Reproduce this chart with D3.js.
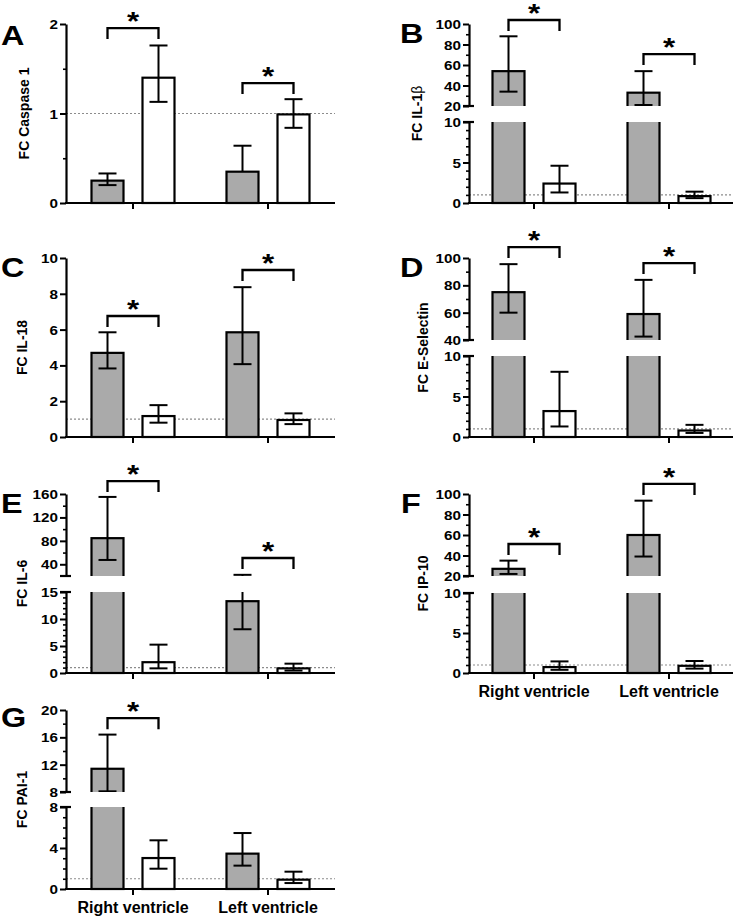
<!DOCTYPE html>
<html><head><meta charset="utf-8">
<script src="https://cdn.jsdelivr.net/npm/d3@7"></script>
<style>body{margin:0;background:#fff}svg{display:block;font-family:"Liberation Sans",Arial,Helvetica,sans-serif}text{fill:#000}</style>
</head><body><svg id="c" width="738" height="916"></svg>
<script>
const categories = ["Right ventricle", "Left ventricle"];
const series = ["gray", "white"];

// A – Caspase 1
const caspaseGray = [0.25, 0.35];
const caspaseGrayErr = [[0.2, 0.33], [0.35, 0.64]];
const caspaseWhite = [1.4, 0.99];
const caspaseWhiteErr = [[1.13, 1.76], [0.84, 1.16]];
const caspaseSig = [1.955, 1.34];
const caspaseTicks = [0, 1, 2];
const caspaseMinor = [0.5, 1.5];

// B – IL-1β
const il1bGray = [54, 33];
const il1bGrayErr = [[34, 88], [21, 54]];
const il1bWhite = [2.4, 0.85];
const il1bWhiteErr = [[1.3, 4.6], [0.6, 1.4]];
const il1bSig = [103.9, 70.7];
const il1bLowTicks = [0, 5, 10];
const il1bLowMinor = [1, 2, 3, 4, 6, 7, 8, 9];
const il1bHighTicks = [20, 40, 60, 80, 100];
const il1bHighMinor = [30, 50, 70, 90];

// C – IL-18
const il18Gray = [4.7, 5.85];
const il18GrayErr = [[3.83, 5.85], [4.07, 8.37]];
const il18White = [1.17, 0.95];
const il18WhiteErr = [[0.8, 1.78], [0.72, 1.32]];
const il18Sig = [6.76, 9.33];
const il18Ticks = [0, 2, 4, 6, 8, 10];
const il18Minor = [];

// D – E-Selectin
const eselGray = [75, 59];
const eselGrayErr = [[60, 95.5], [42.5, 84]];
const eselWhite = [3.2, 0.8];
const eselWhiteErr = [[1.3, 8.05], [0.5, 1.5]];
const eselSig = [108, 96.3];
const eselLowTicks = [0, 5, 10];
const eselLowMinor = [1, 2, 3, 4, 6, 7, 8, 9];
const eselHighTicks = [40, 60, 80, 100];
const eselHighMinor = [50, 70, 90];

// E – IL-6
const il6Gray = [84.6, 13.3];
const il6GrayErr = [[47.4, 155], [8.1, 22]];
const il6White = [2.0, 0.86];
const il6WhiteErr = [[0.86, 5.25], [0.45, 1.73]];
const il6Sig = [182, 50.7];
const il6LowTicks = [0, 5, 10, 15];
const il6LowMinor = [1, 2, 3, 4, 6, 7, 8, 9, 11, 12, 13, 14];
const il6HighTicks = [40, 80, 120, 160];
const il6HighMinor = [60, 100, 140];

// F – IP-10
const ip10Gray = [27, 60];
const ip10GrayErr = [[22, 35], [39, 93.5]];
const ip10White = [0.74, 0.9];
const ip10WhiteErr = [[0.4, 1.45], [0.55, 1.5]];
const ip10Sig = [51.2, 109.8];
const ip10LowTicks = [0, 5, 10];
const ip10LowMinor = [1, 2, 3, 4, 6, 7, 8, 9];
const ip10HighTicks = [20, 40, 60, 80, 100];
const ip10HighMinor = [30, 50, 70, 90];

// G – PAI-1
const pai1Gray = [11.4, 3.45];
const pai1GrayErr = [[8.1, 16.4], [2.28, 5.46]];
const pai1White = [3.02, 0.91];
const pai1WhiteErr = [[1.98, 4.75], [0.58, 1.69]];
const pai1Sig = [18.8, null];
const pai1LowTicks = [0, 4, 8];
const pai1LowMinor = [1, 2, 3, 5, 6, 7];
const pai1HighTicks = [8, 12, 16, 20];
const pai1HighMinor = [10, 14, 18];

// ---- layout ----
const cols = [
  {axisX: 66, xEnd: 335, band: [65.5, 335.5]},
  {axisX: 469, xEnd: 733, band: [466.5, 736.5]}
];

const panels = [
  {letter: "A", col: 0, lx: 1, ly: 45, title: "FC Caspase 1", tx: 24,
   gray: caspaseGray, grayErr: caspaseGrayErr, white: caspaseWhite, whiteErr: caspaseWhiteErr, sig: caspaseSig,
   segs: [{domain: [0, 2], range: [203, 24], ticks: caspaseTicks, minor: caspaseMinor}]},
  {letter: "B", col: 1, lx: 400, ly: 43, title: "FC IL-1", greek: "β", tx: 417,
   gray: il1bGray, grayErr: il1bGrayErr, white: il1bWhite, whiteErr: il1bWhiteErr, sig: il1bSig,
   segs: [{domain: [0, 10], range: [203, 122], ticks: il1bLowTicks, minor: il1bLowMinor},
          {domain: [20, 100], range: [106, 24], ticks: il1bHighTicks, minor: il1bHighMinor}]},
  {letter: "C", col: 0, lx: 1, ly: 277, title: "FC IL-18", tx: 22,
   gray: il18Gray, grayErr: il18GrayErr, white: il18White, whiteErr: il18WhiteErr, sig: il18Sig,
   segs: [{domain: [0, 10], range: [437, 258], ticks: il18Ticks, minor: il18Minor}]},
  {letter: "D", col: 1, lx: 400, ly: 277, title: "FC E-Selectin", tx: 423,
   gray: eselGray, grayErr: eselGrayErr, white: eselWhite, whiteErr: eselWhiteErr, sig: eselSig,
   segs: [{domain: [0, 10], range: [437, 356], ticks: eselLowTicks, minor: eselLowMinor},
          {domain: [40, 100], range: [340, 258], ticks: eselHighTicks, minor: eselHighMinor}]},
  {letter: "E", col: 0, lx: 1, ly: 513, title: "FC IL-6", tx: 22,
   gray: il6Gray, grayErr: il6GrayErr, white: il6White, whiteErr: il6WhiteErr, sig: il6Sig,
   segs: [{domain: [0, 15], range: [673, 592], ticks: il6LowTicks, minor: il6LowMinor},
          {domain: [20, 160], range: [576, 494], ticks: il6HighTicks, minor: il6HighMinor}]},
  {letter: "F", col: 1, lx: 401, ly: 513, title: "FC IP-10", tx: 423, showX: true,
   gray: ip10Gray, grayErr: ip10GrayErr, white: ip10White, whiteErr: ip10WhiteErr, sig: ip10Sig,
   segs: [{domain: [0, 10], range: [673, 593], ticks: ip10LowTicks, minor: ip10LowMinor},
          {domain: [20, 100], range: [576, 494], ticks: ip10HighTicks, minor: ip10HighMinor}]},
  {letter: "G", col: 0, lx: 1, ly: 727, title: "FC PAI-1", tx: 22, showX: true,
   gray: pai1Gray, grayErr: pai1GrayErr, white: pai1White, whiteErr: pai1WhiteErr, sig: pai1Sig,
   segs: [{domain: [0, 8], range: [889, 807], ticks: pai1LowTicks, minor: pai1LowMinor},
          {domain: [8, 20], range: [792, 710], ticks: pai1HighTicks, minor: pai1HighMinor}]}
];

const svg = d3.select("#c");
const defs = svg.append("defs");
const FILL = {gray: "#aaaaaa", white: "#ffffff"};
const TICKSX = 1.22;

panels.forEach((p, pi) => {
  const col = cols[p.col];
  const g = svg.append("g");
  const x0 = d3.scaleBand().domain(categories).range(col.band);
  const x1 = d3.scaleBand().domain(series).range([-41.5, 41.5]).paddingInner(19 / 51);
  const cx = (cat, ser) => x0(cat) + x0.bandwidth() / 2 + x1(ser) + x1.bandwidth() / 2;
  const nSeg = p.segs.length;
  p.segs.forEach((s) => { s.y = d3.scaleLinear().domain(s.domain).range(s.range); });
  const low = p.segs[0];
  const bottomY = low.range[0];

  // dotted reference line at 1
  g.append("line")
    .attr("x1", col.axisX).attr("x2", col.xEnd)
    .attr("y1", low.y(1)).attr("y2", low.y(1))
    .attr("stroke", "#8c8c8c").attr("stroke-width", 1.2).attr("stroke-dasharray", "2,2");

  const rows = [];
  categories.forEach((cat, i) => {
    rows.push({cat, ser: "gray", v: p.gray[i], lo: p.grayErr[i][0], hi: p.grayErr[i][1]});
    rows.push({cat, ser: "white", v: p.white[i], lo: p.whiteErr[i][0], hi: p.whiteErr[i][1]});
  });

  p.segs.forEach((s, si) => {
    const id = `clip${pi}_${si}`;
    const top = (si === nSeg - 1) ? 0 : s.range[1];
    const bot = (si === 0) ? s.range[0] + 4 : s.range[0];
    defs.append("clipPath").attr("id", id).append("rect")
      .attr("x", col.axisX).attr("y", top).attr("width", col.xEnd - col.axisX + 10).attr("height", bot - top);
    const sg = g.append("g").attr("clip-path", `url(#${id})`);
    const baseY = si === 0 ? s.y(s.domain[0]) : s.y(s.domain[0]) + 10;
    sg.selectAll("rect.bar").data(rows.filter(r => r.v > s.domain[0] || si === 0)).join("rect")
      .attr("class", "bar")
      .attr("x", d => cx(d.cat, d.ser) - x1.bandwidth() / 2)
      .attr("width", x1.bandwidth())
      .attr("y", d => s.y(d.v))
      .attr("height", d => baseY - s.y(d.v))
      .attr("fill", d => FILL[d.ser]).attr("stroke", "#000").attr("stroke-width", 2.2);
    // error bars
    const eb = sg.selectAll("g.err").data(rows).join("g").attr("class", "err")
      .attr("stroke", "#000").attr("stroke-width", 2);
    eb.append("line")
      .attr("x1", d => cx(d.cat, d.ser)).attr("x2", d => cx(d.cat, d.ser))
      .attr("y1", d => s.y(d.lo)).attr("y2", d => s.y(d.hi));
    eb.append("line")
      .attr("x1", d => cx(d.cat, d.ser) - 9).attr("x2", d => cx(d.cat, d.ser) + 9)
      .attr("y1", d => s.y(d.hi)).attr("y2", d => s.y(d.hi));
    eb.filter(d => d.lo < d.v).append("line")
      .attr("x1", d => cx(d.cat, d.ser) - 9).attr("x2", d => cx(d.cat, d.ser) + 9)
      .attr("y1", d => s.y(d.lo)).attr("y2", d => s.y(d.lo));

    // y axis for this segment
    const ax = g.append("g").attr("transform", `translate(${col.axisX},0)`);
    ax.call(d3.axisLeft(s.y).tickValues(s.ticks).tickFormat(d3.format("~g"))
      .tickSize(6).tickSizeOuter(0).tickPadding(3));
    ax.select(".domain").attr("stroke-width", 2.2);
    ax.selectAll(".tick line").attr("stroke-width", 2);
    ax.attr("font-family", null).attr("font-size", null);
    ax.selectAll(".tick text")
      .attr("x", null).attr("dy", "0.36em")
      .attr("transform", `translate(-8,0) scale(${TICKSX},1)`)
      .attr("font-size", 12.5).attr("font-weight", "bold");
    if (s.minor.length) {
      const mx = g.append("g").attr("transform", `translate(${col.axisX},0)`);
      mx.call(d3.axisLeft(s.y).tickValues(s.minor).tickSize(3).tickSizeOuter(0).tickFormat(""));
      mx.select(".domain").remove();
      mx.selectAll(".tick line").attr("stroke-width", 1.6);
    }
    // break marks
    if (nSeg > 1) {
      const yb = si === 0 ? s.range[1] : s.range[0];
      g.append("line").attr("x1", col.axisX - 6).attr("x2", col.axisX + 5)
        .attr("y1", yb).attr("y2", yb).attr("stroke", "#000").attr("stroke-width", 2.2);
    }
  });

  // x axis
  const xa = g.append("g").attr("transform", `translate(0,${bottomY})`);
  xa.call(d3.axisBottom(x0).tickSize(6).tickSizeOuter(0).tickFormat(p.showX ? (d => d) : ""));
  xa.select(".domain").remove();
  xa.attr("font-family", null).attr("font-size", null);
  xa.selectAll(".tick line").attr("stroke-width", 2);
  xa.selectAll(".tick text").attr("y", 24).attr("dy", "0").attr("font-size", 16).attr("font-weight", "bold");
  g.append("line").attr("x1", col.axisX - 1).attr("x2", col.xEnd)
    .attr("y1", bottomY).attr("y2", bottomY).attr("stroke", "#000").attr("stroke-width", 2.2);

  // significance brackets
  const topSeg = p.segs[nSeg - 1];
  categories.forEach((cat, i) => {
    if (p.sig[i] == null) return;
    const yT = topSeg.y(p.sig[i]);
    const xl = cx(cat, "gray"), xr = cx(cat, "white");
    g.append("path").attr("d", `M${xl},${yT + 11}V${yT}H${xr}V${yT + 11}`)
      .attr("fill", "none").attr("stroke", "#000").attr("stroke-width", 2.3);
    g.append("text").text("*")
      .attr("transform", `translate(${(xl + xr) / 2},${yT + 2}) scale(1.25,1)`)
      .attr("text-anchor", "middle").attr("font-size", 25).attr("font-weight", "bold");
  });

  // panel letter
  g.append("text").text(p.letter)
    .attr("transform", `translate(${p.lx},${p.ly}) scale(1.2,1)`)
    .attr("font-size", 27).attr("font-weight", "bold");

  // y title
  const yc = (bottomY + topSeg.range[1]) / 2;
  const t = g.append("text")
    .attr("transform", `translate(${p.tx + 5},${yc}) rotate(-90)`)
    .attr("text-anchor", "middle").attr("font-size", 14).attr("font-weight", "bold");
  t.append("tspan").text(p.title);
  if (p.greek) t.append("tspan").text(p.greek).attr("font-weight", "normal");
});
</script></body></html>
